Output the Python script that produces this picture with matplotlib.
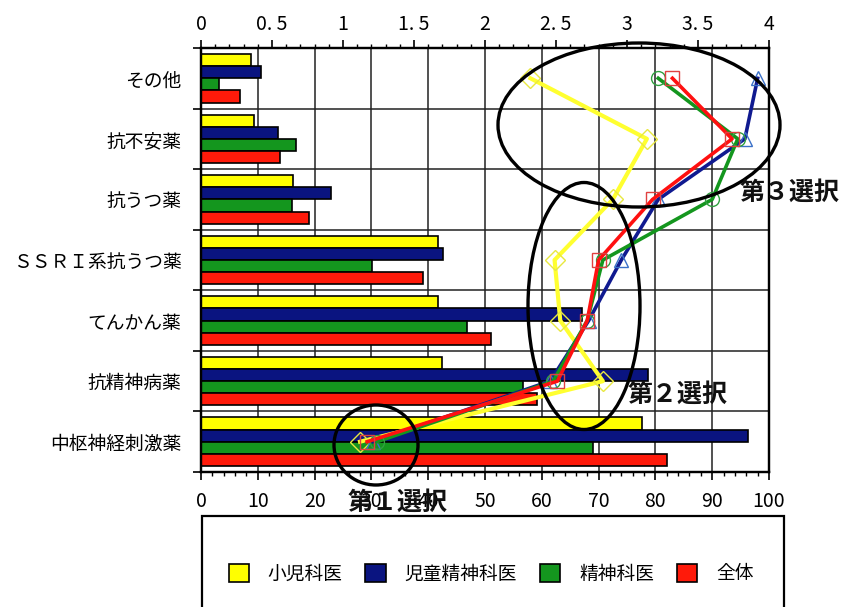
import matplotlib
matplotlib.use('Agg')
import matplotlib.pyplot as plt
from matplotlib.patches import Ellipse, Patch, Rectangle
from matplotlib.ticker import MultipleLocator, FixedLocator
import numpy as np

plt.rcParams['font.family'] = ['Noto Sans CJK JP', 'DejaVu Sans']

# categories, top to bottom
categories = ['その他', '抗不安薬', '抗うつ薬', 'ＳＳＲＩ系抗うつ薬',
              'てんかん薬', '抗精神病薬', '中枢神経刺激薬']
groups = ['小児科医', '児童精神科医', '精神科医', '全体']

# bars: percent (bottom axis 0-100)
pct_ped = [8.8, 9.3, 16.2, 41.7, 41.7, 42.4, 77.6]
pct_child = [10.6, 13.6, 22.9, 42.6, 67.1, 78.7, 96.3]
pct_psy = [3.2, 16.7, 16.0, 30.1, 46.8, 56.7, 69.0]
pct_all = [6.9, 13.9, 19.0, 39.1, 51.1, 59.2, 82.0]

# lines: mean choice order (top axis 0-4)
rank_ped = [2.32, 3.14, 2.90, 2.49, 2.53, 2.83, 1.12]
rank_child = [3.92, 3.83, 3.22, 2.96, 2.73, 2.46, 1.21]
rank_psy = [3.22, 3.78, 3.60, 2.83, 2.72, 2.48, 1.24]
rank_all = [3.32, 3.74, 3.18, 2.80, 2.72, 2.51, 1.17]

top_ticks = [0, 0.5, 1, 1.5, 2, 2.5, 3, 3.5, 4]
top_labels = ['0', '0. 5', '1', '1. 5', '2', '2. 5', '3', '3. 5', '4']

bar_colors = ['#ffff00', '#0a1480', '#14961e', '#ff1a0a']
line_colors = ['#ffff30', '#101a90', '#14961e', '#ff1010']
marker_edge = ['#e8e840', '#3a70c8', '#30a040', '#e04040']
markers = ['D', '^', 'o', 's']

W, H = 850, 607
fig = plt.figure(figsize=(W / 100, H / 100), dpi=100)
ax = fig.add_axes([201 / W, 1 - 472 / H, 568 / W, 424 / H])

y = np.arange(len(categories))
bar_sets = [pct_ped, pct_child, pct_psy, pct_all]
offsets = [-0.3, -0.1, 0.1, 0.3]
for vals, off, c in zip(bar_sets, offsets, bar_colors):
    ax.barh(y + off, vals, height=0.2, color=c, edgecolor='black', linewidth=1.2, zorder=2)

ax.set_xlim(0, 100)
ax.set_ylim(len(categories) - 0.5, -0.5)
ax.xaxis.set_major_locator(MultipleLocator(10))
ax.xaxis.set_minor_locator(MultipleLocator(2))
ax.yaxis.set_major_locator(FixedLocator(np.arange(-0.5, len(categories), 1)))
ax.yaxis.set_minor_locator(FixedLocator(y))
ax.yaxis.set_major_formatter(plt.NullFormatter())
ax.set_yticks(y, categories, minor=True)
ax.tick_params(axis='y', which='minor', length=0, labelsize=13.5, pad=14)
ax.tick_params(axis='y', which='major', length=6, width=1.2)
ax.tick_params(axis='x', which='major', length=6, width=1.2, labelsize=14, pad=8)
ax.tick_params(axis='x', which='minor', length=3, width=1)
ax.grid(True, which='major', color='#222222', linewidth=1.1)
ax.set_axisbelow(True)
for s in ax.spines.values():
    s.set_linewidth(1.6)

ax2 = ax.twiny()
ax2.set_xlim(0, 4)
ax2.set_xticks(top_ticks, top_labels)
ax2.xaxis.set_minor_locator(MultipleLocator(0.1))
ax2.tick_params(axis='x', which='major', length=6, width=1.2, labelsize=14, pad=3)
ax2.tick_params(axis='x', which='minor', length=3, width=1)
for s in ax2.spines.values():
    s.set_linewidth(1.6)

rank_sets = [rank_ped, rank_child, rank_psy, rank_all]
order = [2, 3, 1, 0]
for i in order:
    ax2.plot(rank_sets[i], y, color=line_colors[i], linewidth=2.6 if i else 3.0,
             marker=markers[i], markersize=10, markerfacecolor='none',
             markeredgecolor=marker_edge[i], markeredgewidth=1.0, zorder=3 + i)


def fx(px):
    return px / W


def fy(py):
    return 1 - py / H


# hand-drawn style ellipses and annotations
for cx, cy, w, h in [(639, 125, 282, 164), (584, 306, 112, 247), (376, 445, 84, 80)]:
    fig.add_artist(Ellipse((fx(cx), fy(cy)), w / W, h / H, transform=fig.transFigure,
                           fill=False, edgecolor='black', linewidth=2.4, zorder=10))

for txt, px, py in [('第３選択', 740, 193), ('第２選択', 628, 395), ('第１選択', 348, 503)]:
    fig.text(fx(px), fy(py), txt, fontsize=18, fontweight='bold', style='italic',
             ha='left', va='center', color='#111111', zorder=11)

# legend box
fig.add_artist(Rectangle((fx(202), fy(640)), (784 - 202) / W, (640 - 516) / H,
                         transform=fig.transFigure, fill=False, edgecolor='black',
                         linewidth=1.6))
handles = [Patch(facecolor=c, edgecolor='black', linewidth=1.2) for c in bar_colors]
fig.legend(handles, groups, loc='center', bbox_to_anchor=(fx(491), fy(574)), ncol=4,
           frameon=False, fontsize=13.5, handlelength=1.1, handleheight=1.1,
           handletextpad=1.0, columnspacing=1.2)

fig.savefig('out.png', dpi=100)
